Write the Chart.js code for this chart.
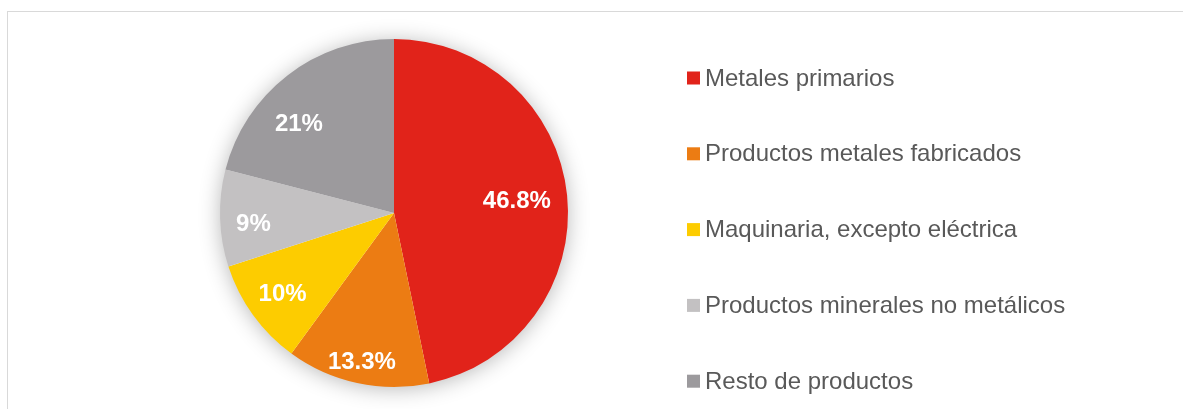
<!DOCTYPE html>
<html>
<head>
<meta charset="utf-8">
<script src="https://cdn.jsdelivr.net/npm/chart.js@4.4.1/dist/chart.umd.min.js"></script>
<style>
  html, body { margin: 0; padding: 0; background: #ffffff; }
  #wrap { position: relative; width: 1183px; height: 409px; overflow: hidden; }
  #frame { position: absolute; left: 7px; top: 11px; width: 1190px; height: 420px; border: 1px solid #d9d9d9; box-sizing: border-box; }
  canvas { position: absolute; left: 0; top: 0; }
</style>
</head>
<body>
<div id="wrap">
  <div id="frame"></div>
  <canvas id="c" width="1183" height="409"></canvas>
</div>
<script>
const categories = [
  "Metales primarios",
  "Productos metales fabricados",
  "Maquinaria, excepto eléctrica",
  "Productos minerales no metálicos",
  "Resto de productos"
];
const shares = [46.8, 13.3, 10, 9, 21];
const sliceColors = ["#E1231A", "#EC7C13", "#FDCC00", "#C3C1C2", "#9C9A9D"];

// placement of each percentage label relative to its slice (Excel "best fit" look)
const labelRadius = [0.71, 0.87, 0.79, 0.81, 0.75];
const labelAngleShift = [0, 0, 0, -2.5, -9];

const pieShadow = {
  id: 'pieShadow',
  beforeDatasetsDraw(chart) {
    const arc = chart.getDatasetMeta(0).data[0];
    if (!arc) return;
    const ctx = chart.ctx;
    ctx.save();
    ctx.shadowColor = 'rgba(0,0,0,0.30)';
    ctx.shadowBlur = 22;
    ctx.shadowOffsetX = 0;
    ctx.shadowOffsetY = 2;
    ctx.fillStyle = '#ffffff';
    ctx.beginPath();
    ctx.arc(arc.x, arc.y, arc.outerRadius - 1, 0, Math.PI * 2);
    ctx.fill();
    ctx.restore();
  }
};

const sliceLabels = {
  id: 'sliceLabels',
  afterDatasetsDraw(chart) {
    const ctx = chart.ctx;
    const meta = chart.getDatasetMeta(0);
    const vals = chart.data.datasets[0].data;
    ctx.save();
    ctx.font = 'bold 24px "Liberation Sans", Arial, sans-serif';
    ctx.fillStyle = '#ffffff';
    ctx.textAlign = 'center';
    ctx.textBaseline = 'middle';
    meta.data.forEach((arc, i) => {
      const mid = (arc.startAngle + arc.endAngle) / 2 + labelAngleShift[i] * Math.PI / 180;
      const r = arc.outerRadius * labelRadius[i];
      const x = arc.x + Math.cos(mid) * r;
      const y = arc.y + Math.sin(mid) * r;
      ctx.fillText(vals[i] + '%', x, y + 1);
    });
    ctx.restore();
  }
};

const sideLegend = {
  id: 'sideLegend',
  afterDraw(chart) {
    const ctx = chart.ctx;
    const labels = chart.data.labels;
    const colors = chart.data.datasets[0].backgroundColor;
    const x0 = 687, y0 = 78, step = 75.8, box = 13;
    ctx.save();
    ctx.font = '24px "Liberation Sans", Arial, sans-serif';
    ctx.textBaseline = 'middle';
    ctx.textAlign = 'left';
    labels.forEach((lab, i) => {
      const y = y0 + i * step;
      ctx.fillStyle = colors[i];
      ctx.fillRect(x0, y - box / 2, box, box);
      ctx.fillStyle = '#595959';
      ctx.fillText(lab, x0 + box + 5, y + 1);
    });
    ctx.restore();
  }
};

new Chart(document.getElementById('c'), {
  type: 'pie',
  data: {
    labels: categories,
    datasets: [{
      data: shares,
      backgroundColor: sliceColors,
      borderWidth: 0
    }]
  },
  options: {
    responsive: false,
    animation: false,
    layout: { padding: { left: 220, right: 615, top: 39, bottom: 22 } },
    plugins: {
      legend: { display: false },
      tooltip: { enabled: false }
    }
  },
  plugins: [pieShadow, sliceLabels, sideLegend]
});
</script>
</body>
</html>
